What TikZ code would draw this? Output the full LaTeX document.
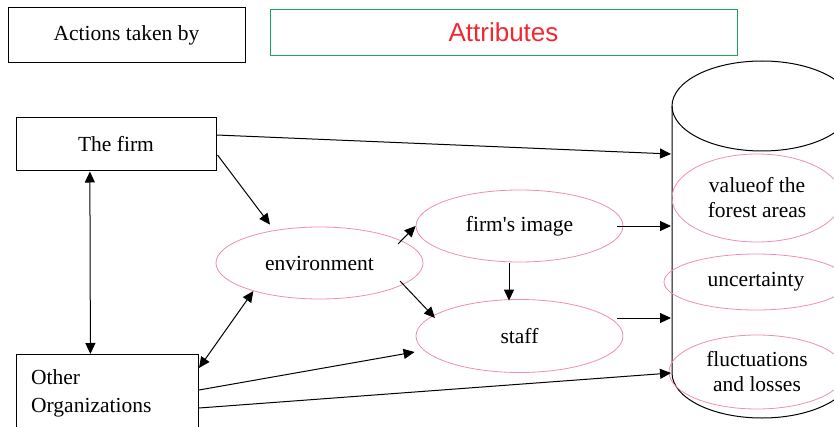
\documentclass[tikz,border=0pt]{standalone}
\usepackage{fontspec}
\setmainfont{Liberation Serif}
\newfontfamily\arialfont{Liberation Sans}
\usetikzlibrary{shapes.geometric,arrows.meta,calc}
\definecolor{pinkline}{RGB}{240,140,185}
\definecolor{greenline}{RGB}{20,170,90}
\definecolor{redtext}{RGB}{240,40,50}
\tikzset{
  txt/.style={font=\fontsize{21.5}{25}\selectfont},
  box/.style={draw, line width=1pt, inner sep=0pt, txt},
  oval/.style={draw=pinkline, line width=0.8pt, ellipse, inner sep=0pt, txt, align=center},
  arr/.style={line width=1pt, -{Triangle[length=11pt,width=10pt]}},
  dbl/.style={line width=1pt, {Triangle[length=11pt,width=10pt]}-{Triangle[length=11pt,width=10pt]}},
}
\begin{document}
\begin{tikzpicture}[x=1pt,y=1pt]
\clip (0,0) rectangle (834,426);
\useasboundingbox (0,0) rectangle (834,426);
% header
\node[box, minimum width=237pt, minimum height=55pt] (actions) at (126.5,390.5) {Actions taken by};
\node[draw=greenline, line width=0.9pt, minimum width=467pt, minimum height=46pt, inner sep=0pt,
      text=redtext, font=\arialfont\fontsize{26}{30}\selectfont] (attr) at (503.5,394) {Attributes};
% cylinder
\draw[line width=1pt] (762,320) ellipse [x radius=90, y radius=45];
\draw[line width=1pt] (672,320) -- (672,53) arc[start angle=180, end angle=360, x radius=90, y radius=45] -- (852,320);
\coordinate (cyl1) at (671,272);
\coordinate (cyl2) at (671,200);
\coordinate (cyl3) at (671,108);
\coordinate (cyl4) at (671,53);
% attribute ovals
\node[oval, minimum width=170pt, minimum height=88pt] (value) at (757,228) {valueof the\\forest areas};
\node[oval, minimum width=184pt, minimum height=56pt] (uncert) at (756,144) {uncertainty};
\node[oval, minimum width=176pt, minimum height=74pt] (fluct) at (757,54) {fluctuations\\and losses};
% actors
\node[box, minimum width=200pt, minimum height=53pt] (firm) at (116,281.5) {The firm};
\node[draw, line width=1pt, anchor=north west, minimum width=182pt, minimum height=106pt, inner sep=0pt] (other) at (16,72) {};
\node[font=\fontsize{21.5}{28}\selectfont, anchor=west, align=left, inner sep=0pt] (othertxt) at (31,33) {Other\\Organizations};
% middle ovals
\node[oval, minimum width=207pt, minimum height=72pt] (env) at (319.5,163) {environment};
\node[oval, minimum width=207pt, minimum height=72pt] (img) at (519.5,200) {firm\textquotesingle s image};
\node[oval, minimum width=207pt, minimum height=73pt] (staff) at (519.5,90) {staff};
% connectors
\draw[arr] ($(firm.east)+(0,9.5)$) -- (cyl1);
\draw[arr] ($(firm.east)+(1,-10.5)$) -- ($(env.north)+(-49.5,2)$);
\draw[dbl] ($(firm.south west)!0.37!(firm.south east)$) -- ($(other.north west)!0.4066!(other.north east)$);
\draw[dbl] ($(other.north east)+(0,-14)$) -- (env.203);
\draw[arr] ($(env.center)+(78.5,19)$) -- (img.west);
\draw[arr] ($(env.center)+(80.5,-18)$) -- ($(staff.center)+(-84.5,18)$);
\draw[arr] ($(img.south)+(-10.5,-1)$) -- ($(staff.north)+(-10.5,-1.5)$);
\draw[arr] ($(img.east)+(-6,0)$) -- (cyl2);
\draw[arr] ($(staff.east)+(-6,18)$) -- (cyl3);
\draw[arr] ($(other.north east)+(0,-36)$) -- ($(staff.west)+(-1,-16)$);
\draw[arr] ($(other.north east)+(0,-54)$) -- (cyl4);
\end{tikzpicture}
\end{document}
